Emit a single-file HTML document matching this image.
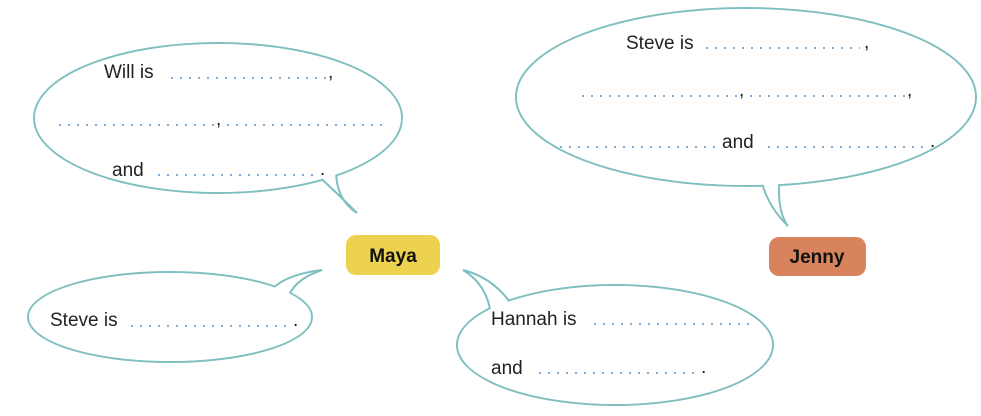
<!DOCTYPE html>
<html><head><meta charset="utf-8"><style>
body{margin:0;background:#fff;}
svg text{font-family:"Liberation Sans",sans-serif;font-size:19px;fill:#222;}
.b{fill:#fff;stroke:#7fbfbf;stroke-width:2;}
.d{stroke:#7aaee0;stroke-width:2;stroke-dasharray:2 7;fill:none;}
</style></head><body>
<svg width="981" height="411" viewBox="0 0 981 411" xmlns="http://www.w3.org/2000/svg">
<ellipse class="b" cx="218" cy="118" rx="184" ry="75"/>
<path class="b" d="M314,172 Q338,194 357,213 Q336,200 336,170Z"/>
<ellipse fill="#fff" cx="218" cy="118" rx="183" ry="74"/>

<ellipse class="b" cx="746" cy="97" rx="230" ry="89"/>
<path class="b" d="M760,175 Q766,205 788,226 Q776,210 780,175Z"/>
<ellipse fill="#fff" cx="746" cy="97" rx="229" ry="88"/>

<ellipse class="b" cx="170" cy="317" rx="142" ry="45"/>
<path class="b" d="M266,296 Q280,275 322,270 Q292,280 287,301Z"/>
<ellipse fill="#fff" cx="170" cy="317" rx="141" ry="44"/>

<ellipse class="b" cx="615" cy="345" rx="158" ry="60"/>
<path class="b" d="M491,316 Q488,285 463,270 Q495,278 514,308Z"/>
<ellipse fill="#fff" cx="615" cy="345" rx="157" ry="59"/>

<rect x="346" y="235" width="94" height="40" rx="10" fill="#ecd24f"/>
<text x="393" y="262" text-anchor="middle" style="font-weight:bold;font-size:19px;fill:#111">Maya</text>
<rect x="769" y="237" width="97" height="39" rx="10" fill="#d9825e"/>
<text x="817" y="263" text-anchor="middle" style="font-weight:bold;font-size:19px;fill:#111">Jenny</text>

<text x="104" y="78">Will is</text>
<line class="d" x1="171" y1="78" x2="326" y2="78"/><text x="328" y="78">,</text>
<line class="d" x1="59" y1="125" x2="214" y2="125"/><text x="216" y="125">,</text>
<line class="d" x1="227" y1="125" x2="382" y2="125"/>
<text x="112" y="176">and</text>
<line class="d" x1="158" y1="175" x2="313" y2="175"/><text x="320" y="175">.</text>

<text x="626" y="49">Steve is</text>
<line class="d" x1="706" y1="48" x2="860" y2="48"/><text x="864" y="48">,</text>
<line class="d" x1="582" y1="96" x2="737" y2="96"/><text x="739" y="96">,</text>
<line class="d" x1="750" y1="96" x2="905" y2="96"/><text x="907" y="96">,</text>
<line class="d" x1="560" y1="147" x2="715" y2="147"/>
<text x="722" y="148">and</text>
<line class="d" x1="768" y1="147" x2="923" y2="147"/><text x="930" y="147">.</text>

<text x="50" y="326">Steve is</text>
<line class="d" x1="131" y1="326" x2="286" y2="326"/><text x="293" y="326">.</text>
<text x="491" y="325">Hannah is</text>
<line class="d" x1="594" y1="324" x2="749" y2="324"/>
<text x="491" y="374">and</text>
<line class="d" x1="539" y1="373" x2="694" y2="373"/><text x="701" y="373">.</text>
</svg>
</body></html>
